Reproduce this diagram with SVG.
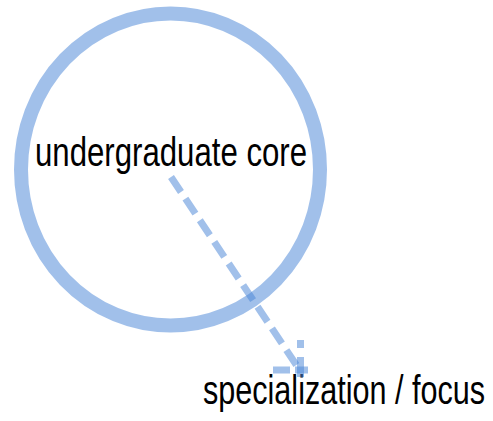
<svg xmlns="http://www.w3.org/2000/svg" width="493" height="421" viewBox="0 0 493 421">
<style>
.ring{fill:none;stroke:#4a86d6;stroke-opacity:0.52;stroke-width:14}
.conn{fill:none;stroke:#4a86d6;stroke-opacity:0.52;stroke-width:7;stroke-dasharray:18 8}
.lbl{font-family:"Liberation Sans",Arial,sans-serif;font-size:41px;fill:#000}
</style>
<rect width="493" height="421" fill="#fff"/>
<g id="node-core">
<ellipse class="ring" cx="170.5" cy="169.5" rx="149.5" ry="156"/>
<text class="lbl" transform="translate(35 166) scale(0.76 1)" x="0" y="0" textLength="358" lengthAdjust="spacingAndGlyphs">undergraduate core</text>
</g>
<g id="node-focus">
<text class="lbl" transform="translate(203 404) scale(0.746 1)" x="0" y="0" textLength="378" lengthAdjust="spacingAndGlyphs">specialization / focus</text>
</g>
<g id="connectors">
<path class="conn" d="M171,177 L297,366"/>
<path class="conn" style="stroke-dasharray:17 5 13" d="M273,370 L308,370"/>
<path class="conn" style="stroke-dasharray:8 9 20" d="M300.5,340 L300.5,377"/>
</g>
</svg>
